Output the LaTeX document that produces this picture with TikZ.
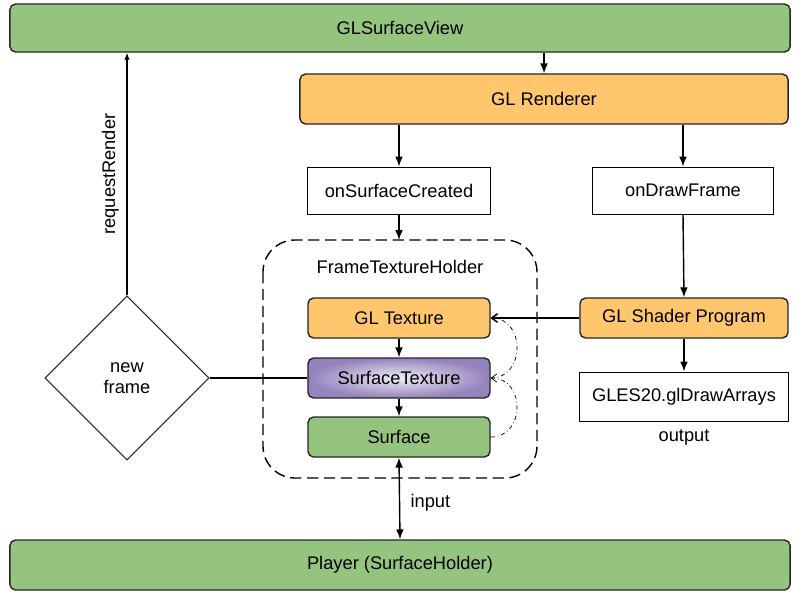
\documentclass[tikz,border=0pt]{standalone}
\usepackage{fontspec}
\setmainfont{Liberation Sans}
\usetikzlibrary{arrows.meta,shapes.geometric}
\definecolor{glgreen}{HTML}{94C47D}
\definecolor{glorange}{HTML}{FFC66D}
\definecolor{glpurple}{HTML}{9483BC}
\definecolor{gllilac}{HTML}{EEEAF6}
\begin{document}
\begin{tikzpicture}[x=0.025cm,y=-0.025cm,
  txt/.style={font=\fontsize{13}{15}\selectfont},
  box/.style={txt,draw=black!85,line width=1pt,rounded corners=4pt,inner sep=0pt},
  call/.style={txt,draw=black,line width=0.7pt,inner sep=0pt},
  flow/.style={-{Latex[length=7pt,width=5.5pt]},line width=1pt},
  weak/.style={-{Straight Barb[length=4pt,width=6pt]},line width=0.5pt}]
  %Page
  \useasboundingbox (0,0) rectangle (800,600);
  %Holder frame
  \draw[line width=1pt,dash pattern=on 8pt off 4pt,rounded corners=0.8cm]
    (263,240) rectangle (537,478);
  \node[txt] (holder) at (400,267) {FrameTextureHolder};
  %Top and bottom bars
  \node[box,fill=glgreen,minimum width=19.5cm,minimum height=1.2cm] (view) at (400,28) {GLSurfaceView};
  \node[box,fill=glgreen,minimum width=19.5cm,minimum height=1.25cm] (player) at (400,565) {Player (SurfaceHolder)};
  %Renderer and callbacks
  \node[box,fill=glorange,minimum width=12.2cm,minimum height=1.25cm] (renderer) at (544,99) {GL Renderer};
  \node[call,minimum width=4.55cm,minimum height=1.175cm] (created) at (399,190.5) {onSurfaceCreated};
  \node[call,minimum width=4.5cm,minimum height=1.175cm] (drawframe) at (683,190.5) {onDrawFrame};
  \coordinate (holdertop) at (399,240);
  %Texture chain
  \node[box,fill=glorange,minimum width=4.55cm,minimum height=1cm] (gltex) at (399,318) {GL Texture};
  \node[box,inner color=gllilac,outer color=glpurple,minimum width=4.55cm,minimum height=1cm] (stex) at (399,378) {SurfaceTexture};
  \node[box,fill=glgreen,minimum width=4.55cm,minimum height=1cm] (surface) at (399,437) {Surface};
  %Shader side
  \node[box,fill=glorange,minimum width=5.2cm,minimum height=1cm] (shader) at (684,318) {GL Shader Program};
  \node[call,minimum width=5.2cm,minimum height=1.225cm] (drawarrays) at (684,396.5) {GLES20.glDrawArrays};
  \node[txt,below=2pt] (output) at (drawarrays.south) {output};
  %New frame
  \node[txt,draw=black!85,line width=0.7pt,diamond,aspect=1,inner sep=0pt,minimum width=4.1cm,minimum height=4.1cm,align=center] (newframe) at (127,378) {new\\frame};

  %Arrows
  \draw[flow] (view.south -| renderer.center) -- (renderer.north);
  \draw[flow] (renderer.south -| created) -- (created.north);
  \draw[flow] (renderer.south -| drawframe) -- (drawframe.north);
  \draw[flow] (created.south) -- (holdertop);
  \draw[flow] (drawframe.south) -- (shader.north);
  \draw[flow] (shader.south) -- (drawarrays.north);
  \draw[flow] (gltex.south) -- (stex.north);
  \draw[flow] (stex.south) -- (surface.north);
  \draw[flow,{Latex[length=7pt,width=5.5pt]}-{Latex[length=7pt,width=5.5pt]}] (surface.south) -- (player.north)
    node[txt,pos=0.55,right=4pt] (input) {input};
  \draw[-{Latex[length=5pt,width=4pt]},line width=1pt] (newframe.north) -- (newframe.north |- view.south)
    node[txt,pos=0.5,rotate=90,above=2pt] (request) {requestRender};
  \draw[line width=1pt] (newframe.east) -- (stex.west);
  \draw[line width=1pt,-{Straight Barb[length=4pt,width=6pt]}] (shader.west) -- (gltex.east);
  %Texture updates
  \draw[weak,dash dot] (surface.east) .. controls +(35,0) and +(35,0) .. (stex.east);
  \draw[weak,dash dot] (stex.east) .. controls +(35,0) and +(35,0) .. (gltex.east);
\end{tikzpicture}
\end{document}
